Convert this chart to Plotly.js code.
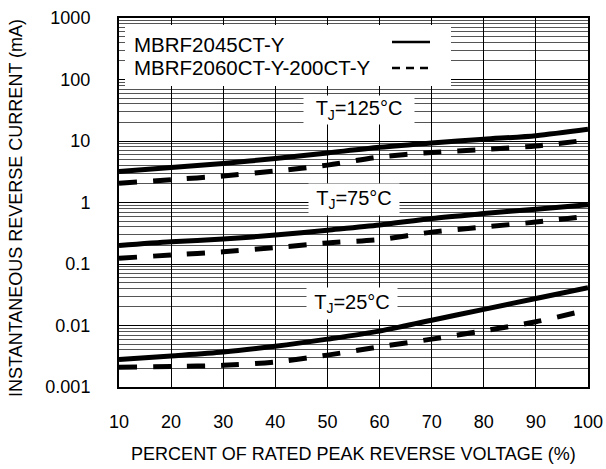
<!DOCTYPE html>
<html>
<head>
<meta charset="utf-8">
<script src="https://cdn.plot.ly/plotly-3.0.1.min.js"></script>
<style>
html,body{margin:0;padding:0;background:#fff;}
#chart{width:606px;height:469px;}
</style>
</head>
<body>
<div id="chart"></div>
<script>
// Data
var voltagePct = [10, 20, 30, 40, 50, 60, 70, 80, 90, 100];
var s125 = [3.2, 3.7, 4.3, 5.2, 6.4, 7.9, 9.3, 10.7, 12.2, 15.5];
var d125 = [2.05, 2.35, 2.7, 3.25, 4.05, 5.5, 6.5, 7.3, 8.3, 10.4];
var s75 = [0.2, 0.23, 0.255, 0.295, 0.355, 0.43, 0.55, 0.66, 0.78, 0.92];
var d75 = [0.124, 0.14, 0.158, 0.185, 0.22, 0.25, 0.33, 0.4, 0.48, 0.6];
var s25 = [0.0028, 0.0032, 0.0037, 0.0046, 0.006, 0.0081, 0.0122, 0.0183, 0.0275, 0.041];
var d25 = [0.0021, 0.00215, 0.00225, 0.00255, 0.0033, 0.0045, 0.006, 0.0082, 0.0115, 0.018];

var xTicks = [10, 20, 30, 40, 50, 60, 70, 80, 90, 100];
var yTickVals = [0.001, 0.01, 0.1, 1, 10, 100, 1000];
var yTickText = ['0.001', '0.01', '0.1', '1', '10', '100', '1000'];

var seriesNames = ['MBRF2045CT-Y', 'MBRF2060CT-Y-200CT-Y'];
var tempLabels = ['T<sub>J</sub>=125°C', 'T<sub>J</sub>=75°C', 'T<sub>J</sub>=25°C'];
var xTitle = 'PERCENT OF RATED PEAK REVERSE VOLTAGE (%)';
var yTitle = 'INSTANTANEOUS REVERSE CURRENT (mA)';

var FONT = 'Arial, "Liberation Sans", sans-serif';
var solidLine = {color: '#000', width: 5, shape: 'spline', smoothing: 0.8};
var dashLine = {color: '#000', width: 5, dash: '18px,16px', shape: 'spline', smoothing: 0.8};

function tr(y, line, name) {
  return {x: voltagePct, y: y, type: 'scatter', mode: 'lines', line: line, name: name,
          showlegend: false, hoverinfo: 'skip'};
}

var traces = [
  tr(s125, solidLine, seriesNames[0]),
  tr(d125, dashLine, seriesNames[1]),
  tr(s75, solidLine, seriesNames[0]),
  tr(d75, dashLine, seriesNames[1]),
  tr(s25, solidLine, seriesNames[0]),
  tr(d25, dashLine, seriesNames[1])
];

// helpers for paper coords from plot-area pixel positions
var PL = 119, PR = 588, PT = 18, PB = 387;
function px(x){ return (x - PL) / (PR - PL); }
function py(y){ return (PB - y) / (PB - PT); }

var annotations = [
  {xref:'paper', yref:'paper', x: px(16), y: py(208), xanchor:'center', yanchor:'middle',
   text: yTitle, textangle: -90, showarrow:false, font:{family:FONT, size:18, color:'#000'}},
  {xref:'paper', yref:'paper', x: px(132), y: py(44), xanchor:'left', yanchor:'middle',
   text: seriesNames[0], showarrow:false, font:{family:FONT, size:20.5, color:'#000'}},
  {xref:'paper', yref:'paper', x: px(132), y: py(68), xanchor:'left', yanchor:'middle',
   text: seriesNames[1], showarrow:false, font:{family:FONT, size:20.5, color:'#000'}},
  {xref:'x', yref:'y', x: 56.1, y: 1.5, text: tempLabels[0], showarrow:false,
   bgcolor:'#fff', width:108, height:26, font:{family:FONT, size:20, color:'#000'}},
  {xref:'x', yref:'y', x: 55.1, y: 0.05, text: tempLabels[1], showarrow:false,
   bgcolor:'#fff', width:88, height:29, font:{family:FONT, size:20, color:'#000'}},
  {xref:'x', yref:'y', x: 54.7, y: -1.64, text: tempLabels[2], showarrow:false,
   bgcolor:'#fff', width:88, height:29, font:{family:FONT, size:20, color:'#000'}}
];

var shapes = [
  {type:'rect', xref:'paper', yref:'paper', x0: px(125), x1: px(451), y0: py(86), y1: py(25),
   fillcolor:'#fff', line:{width:0}, layer:'above'},
  {type:'line', xref:'paper', yref:'paper', x0: px(392), x1: px(430), y0: py(42), y1: py(42),
   line:{color:'#000', width:2.5}, layer:'above'},
  {type:'line', xref:'paper', yref:'paper', x0: px(392), x1: px(430), y0: py(68), y1: py(68),
   line:{color:'#000', width:2.5, dash:'8px,6px'}, layer:'above'}
];

var layout = {
  width: 606, height: 469,
  margin: {l: PL, r: 606 - PR, t: PT, b: 469 - PB, pad: 0},
  paper_bgcolor: '#fff', plot_bgcolor: '#fff',
  font: {family: FONT, size: 18, color: '#000'},
  showlegend: false,
  xaxis: {
    range: [10, 100], tickvals: xTicks, ticks: '', showgrid: true, gridcolor: '#000', gridwidth: 1,
    zeroline: false, showline: true, linecolor: '#000', linewidth: 2, mirror: true,
    ticklabelstandoff: 17, tickfont: {family: FONT, size: 18, color: '#000'},
    title: {text: xTitle, standoff: 17, font: {family: FONT, size: 18, color: '#000'}}
  },
  yaxis: {
    type: 'log', range: [-3, 3], tickvals: yTickVals, ticktext: yTickText, ticks: '',
    showgrid: true, gridcolor: '#000', gridwidth: 1,
    minor: {dtick: 'D1', showgrid: true, gridcolor: '#555', gridwidth: 1, ticks: ''},
    zeroline: false, showline: true, linecolor: '#000', linewidth: 2, mirror: true,
    ticklabelstandoff: 23, tickfont: {family: FONT, size: 18, color: '#000'}
  },
  annotations: annotations,
  shapes: shapes
};

Plotly.newPlot('chart', traces, layout, {staticPlot: true, displayModeBar: false});
</script>
</body>
</html>
